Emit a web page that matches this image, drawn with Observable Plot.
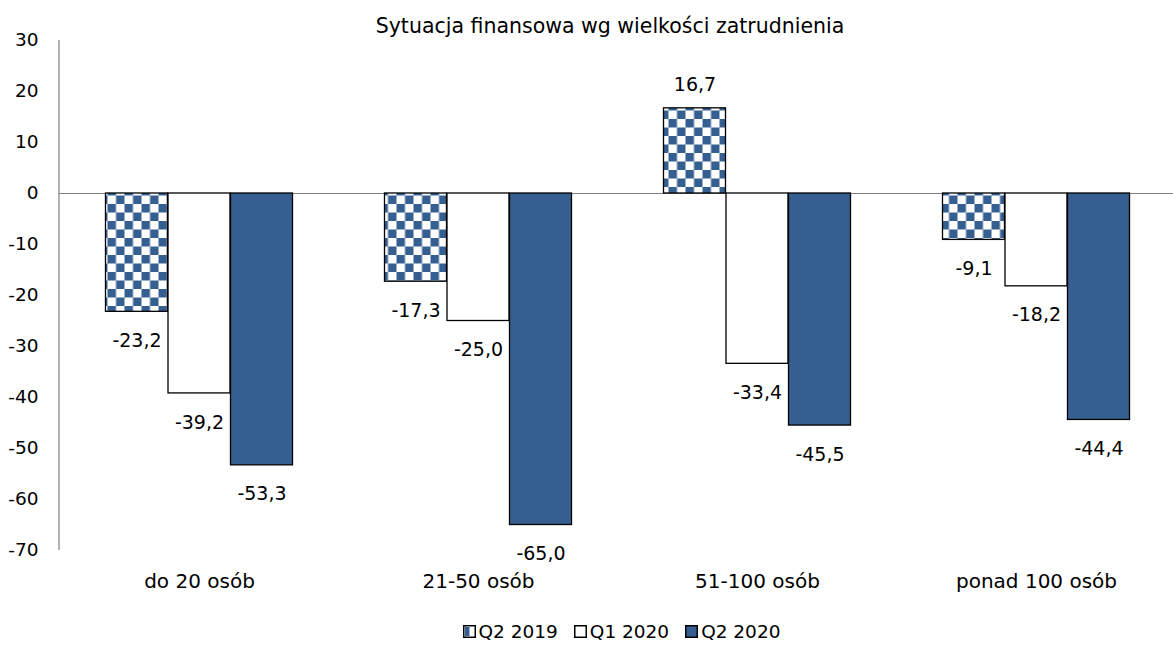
<!DOCTYPE html>
<html>
<head>
<meta charset="utf-8">
<script src="https://cdn.jsdelivr.net/npm/d3@7"></script>
<script src="https://cdn.jsdelivr.net/npm/@observablehq/plot@0.6"></script>
<style>
  html, body { margin: 0; padding: 0; background: #fff; }
  body { width: 1173px; height: 646px; overflow: hidden; font-family: "DejaVu Sans", sans-serif; }
  #wrap { position: relative; width: 1173px; }
  #title { position: absolute; left: 0; width: 1220px; top: 14px; text-align: center; font-size: 20.5px; color: #000; }
  #legend { display: flex; justify-content: center; align-items: center; gap: 16px; font-size: 18.5px; color: #000; margin-left: 70px; margin-top: 16px; }
  #legend .item { display: flex; align-items: center; gap: 3px; }
</style>
</head>
<body>
<div id="wrap">
  <div id="title">Sytuacja finansowa wg wielkości zatrudnienia</div>
  <div id="chart"></div>
  <div id="legend"></div>
</div>
<script>
const categories = ["do 20 osób", "21-50 osób", "51-100 osób", "ponad 100 osób"];
const seriesNames = ["Q2 2019", "Q1 2020", "Q2 2020"];
const q2_2019 = [-23.2, -17.3, 16.7, -9.1];
const q1_2020 = [-39.2, -25.0, -33.4, -18.2];
const q2_2020 = [-53.3, -65.0, -45.5, -44.4];
const yTicks = [30, 20, 10, 0, -10, -20, -30, -40, -50, -60, -70];

const seriesValues = [q2_2019, q1_2020, q2_2020];
const blue = "#365F91";
const fills = ["url(#checker)", "#ffffff", blue];
const barW = 62.5;
const offsets = [-barW, 0, barW];

const fmt = v => v.toFixed(1).replace(".", ",");

const marks = [
  Plot.ruleY([0], {stroke: "#808080", strokeWidth: 1.2}),
  (index, scales, values, dimensions) => {
    const g = d3.create("svg:g");
    g.append("line")
      .attr("x1", dimensions.marginLeft).attr("x2", dimensions.marginLeft)
      .attr("y1", scales.y(30)).attr("y2", scales.y(-70))
      .attr("stroke", "#808080").attr("stroke-width", 1.2);
    return g.node();
  }
];

seriesValues.forEach((vals, s) => {
  const data = categories.map((c, i) => ({category: c, value: vals[i]}));
  marks.push(Plot.barY(data, {
    x: "category", y1: 0, y2: "value",
    dx: offsets[s], fill: fills[s], stroke: "#000", strokeWidth: 1.3
  }));
});

seriesValues.forEach((vals, s) => {
  const data = categories.map((c, i) => ({category: c, value: vals[i]}));
  const pos = data.filter(d => d.value >= 0);
  const neg = data.filter(d => d.value < 0);
  marks.push(Plot.text(pos, {x: "category", y: "value", text: d => fmt(d.value), dx: offsets[s], dy: -23, fontSize: 19, fill: "#000"}));
  marks.push(Plot.text(neg, {x: "category", y: "value", text: d => fmt(d.value), dx: offsets[s], dy: 29, fontSize: 19, fill: "#000"}));
});

const step = 279.5;
const chart = Plot.plot({
  width: 1173,
  height: 605,
  marginLeft: 59,
  marginRight: 0,
  marginTop: 40,
  marginBottom: 55,
  style: {fontFamily: "DejaVu Sans, sans-serif", fontSize: "18.5px", color: "#000", background: "#fff", overflow: "visible"},
  x: {domain: categories, range: [59, 59 + 4 * step], paddingInner: 1 - barW / step, paddingOuter: (1 - barW / step) / 2, label: null, axis: null},
  y: {domain: [-70, 30], ticks: yTicks, tickFormat: d => String(d), label: null, tickSize: 0, tickPadding: 21},
  marks: [
    ...marks,
    Plot.axisX({tickSize: 0, tickPadding: 23, fontSize: 20, label: null})
  ]
});

// pattern definition
const defs = d3.select(chart).insert("defs", ":first-child");
const pat = defs.append("pattern")
  .attr("id", "checker").attr("patternUnits", "userSpaceOnUse")
  .attr("width", 17).attr("height", 17);
pat.append("rect").attr("width", 17).attr("height", 17).attr("fill", "#fff");
pat.append("rect").attr("width", 8.5).attr("height", 8.5).attr("fill", blue);
pat.append("rect").attr("x", 8.5).attr("y", 8.5).attr("width", 8.5).attr("height", 8.5).attr("fill", blue);

document.getElementById("chart").appendChild(chart);

// legend
const legend = d3.select("#legend");
seriesNames.forEach((name, s) => {
  const item = legend.append("div").attr("class", "item");
  const sw = item.append("svg").attr("width", 13).attr("height", 13);
  if (s === 0) {
    sw.append("rect").attr("x", 0.75).attr("y", 0.75).attr("width", 11.5).attr("height", 11.5).attr("fill", "#fff").attr("stroke", "#000").attr("stroke-width", 1.5);
    sw.append("rect").attr("x", 2).attr("y", 2).attr("width", 4.5).attr("height", 9).attr("fill", blue);
  } else {
    sw.append("rect").attr("x", 0.75).attr("y", 0.75).attr("width", 11.5).attr("height", 11.5).attr("fill", s === 1 ? "#fff" : blue).attr("stroke", "#000").attr("stroke-width", 1.5);
  }
  item.append("span").text(name);
});
</script>
</body>
</html>
